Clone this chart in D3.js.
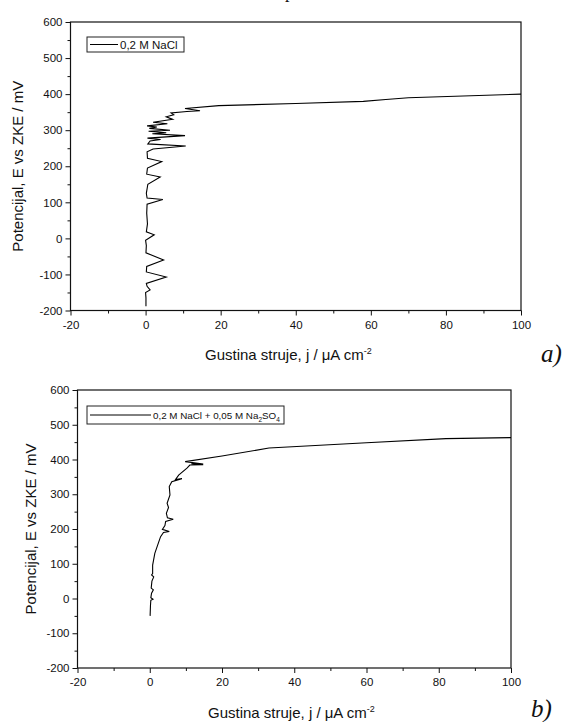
<!DOCTYPE html>
<html>
<head>
<meta charset="utf-8">
<script src="https://cdn.jsdelivr.net/npm/d3@7/dist/d3.min.js"></script>
<style>
  body { margin: 0; background: #fff; }
  svg { display: block; }
  text { font-family: "Liberation Sans", Arial, sans-serif; fill: #111; }
</style>
</head>
<body>
<div id="chart"></div>
<script>
// Polarizacijske krive, j (µA cm-2) vs E (mV)
// a) 0,2 M NaCl
const nacl_j = [0.1, 0.1, 0.0, 1.2, 0.4, 0.2, 5.5, 0.2, 0.3, 4.8, 0.1, 0.2, 0.0, 2.3, 0.2, 0.5, 0.3, 0.4, 4.6, 0.4,
  0.2, 0.6, 3.9, 0.3, 0.5, 4.3, 0.5, 0.4, 2.0, 10.7, 0.6, 1.2, 4.0, 0.5, 10.5, 1.8, 5.5, 0.8, 6.5, 1.0,
  3.0, 0.4, 5.8, 2.0, 7.2, 5.5, 7.5, 6.8, 11.0, 14.5, 10.5, 19.5, 40, 58, 64, 70, 100];
const nacl_E = [-188, -165, -150, -143, -133, -125, -107, -93, -78, -60, -40, -20, -5, 10, 18, 40, 70, 95, 108, 112,
  125, 150, 170, 178, 195, 213, 222, 240, 248, 256, 262, 270, 274, 278, 285, 290, 293, 297, 300, 305,
  309, 312, 318, 322, 330, 337, 343, 348, 352, 354, 360, 368, 374, 380, 385, 390, 400];

// b) 0,2 M NaCl + 0,05 M Na2SO4
const mix_j = [0.1, 0.2, 0.3, 0.9, 0.3, 0.5, 1.0, 0.4, 0.6, 1.1, 0.5, 0.8, 0.8, 1.4, 2.4, 3.0, 3.8, 5.4, 3.5, 4.2,
  4.4, 6.5, 4.9, 4.6, 5.2, 4.8, 5.6, 5.4, 6.1, 8.9, 7.1, 8.0, 10.3, 11.1, 14.8, 11.5, 14.8, 9.8, 20, 33, 60, 82, 100];
const mix_E = [-50, -20, -5, -2, 2, 15, 25, 30, 50, 62, 68, 72, 96, 130, 160, 178, 190, 193, 199, 210,
  222, 228, 232, 245, 262, 274, 298, 322, 336, 345, 342, 355, 375, 384, 385, 388, 387, 394, 410, 433, 448, 460, 463];

const xTicks = [-20, 0, 20, 40, 60, 80, 100];
const yTicks = [-200, -100, 0, 100, 200, 300, 400, 500, 600];

const W = 566, H = 722;
const svg = d3.select('#chart').append('svg').attr('width', W).attr('height', H);

// fragment of the caption cut off at the top
svg.append('text').attr('x', 285).attr('y', -2)
  .style('font-family', '"Liberation Serif", serif').style('font-size', '18px').text('p');

function drawPanel(cfg) {
  const x = d3.scaleLinear().domain([-20, 100]).range([cfg.left, cfg.right]);
  const y = d3.scaleLinear().domain([-200, 600]).range([cfg.bottom, cfg.top]);
  const g = svg.append('g');
  const fmt = d => String(d);   // plain hyphen minus, like the original

  // frame
  g.append('rect')
    .attr('x', cfg.left).attr('y', cfg.top)
    .attr('width', cfg.right - cfg.left).attr('height', cfg.bottom - cfg.top)
    .attr('fill', 'none').attr('stroke', '#111').attr('stroke-width', 1.2);

  // x axis (major + minor)
  g.append('g').attr('transform', `translate(0,${cfg.bottom})`)
    .call(d3.axisBottom(x).tickValues(xTicks).tickSize(5).tickPadding(5).tickFormat(fmt));
  g.append('g').attr('transform', `translate(0,${cfg.bottom})`)
    .call(d3.axisBottom(x).tickValues(d3.range(-10, 100, 20)).tickSize(3).tickFormat(''));

  // y axis
  g.append('g').attr('transform', `translate(${cfg.left},0)`)
    .call(d3.axisLeft(y).tickValues(yTicks).tickSize(5).tickPadding(3).tickFormat(fmt));
  g.append('g').attr('transform', `translate(${cfg.left},0)`)
    .call(d3.axisLeft(y).tickValues(d3.range(-150, 600, 100)).tickSize(3).tickFormat(''));

  g.selectAll('.domain').remove();
  g.selectAll('.tick line').attr('stroke', '#111').attr('stroke-width', 1);
  g.selectAll('.tick text').style('font-size', '11.5px').attr('fill', '#111');

  // data line
  const line = d3.line().x(d => x(d[0])).y(d => y(d[1]));
  g.append('path')
    .datum(d3.zip(cfg.j, cfg.E))
    .attr('d', line)
    .attr('fill', 'none').attr('stroke', '#000').attr('stroke-width', 1.1)
    .attr('stroke-linejoin', 'miter');

  // legend
  const lg = cfg.legend;
  g.append('rect').attr('x', lg.x).attr('y', lg.y).attr('width', lg.w).attr('height', lg.h)
    .attr('fill', '#fff').attr('stroke', '#222').attr('stroke-width', 1);
  g.append('line').attr('x1', lg.x + 3).attr('x2', lg.x + lg.lineLen)
    .attr('y1', lg.y + lg.h / 2).attr('y2', lg.y + lg.h / 2)
    .attr('stroke', '#000').attr('stroke-width', 1);
  const lt = g.append('text').attr('x', lg.x + lg.lineLen + 2).attr('y', lg.y + lg.h / 2 + 4)
    .style('font-size', lg.size + 'px');
  lg.parts.forEach(p => {
    const ts = lt.append('tspan').text(p.t);
    if (p.sub) ts.attr('dy', 3).style('font-size', '6.5px');
    else if (p.back) ts.attr('dy', -3);
  });

  // axis titles
  const xt = g.append('text').attr('x', cfg.xTitleX).attr('y', cfg.xTitleY).style('font-size', '15px');
  xt.append('tspan').text('Gustina struje, j / \u03bcA cm');
  xt.append('tspan').attr('dy', -6).style('font-size', '9px').text('-2');

  g.append('text')
    .attr('transform', `translate(${cfg.yTitleX},${(cfg.top + cfg.bottom) / 2}) rotate(-90)`)
    .attr('text-anchor', 'middle').style('font-size', '15px')
    .text('Potencijal, E vs ZKE / mV');

  // panel letter
  g.append('text').attr('x', cfg.tagX).attr('y', cfg.tagY)
    .style('font-family', '"Liberation Serif", "Times New Roman", serif')
    .style('font-style', 'italic').style('font-size', '25px')
    .text(cfg.tag);
}

drawPanel({
  left: 70.5, right: 521, top: 22, bottom: 310.5,
  j: nacl_j, E: nacl_E,
  legend: { x: 87, y: 37, w: 97, h: 15, lineLen: 31, size: 11.5, parts: [{ t: '0,2 M NaCl' }] },
  xTitleX: 205, xTitleY: 360, yTitleX: 23,
  tag: 'a)', tagX: 541, tagY: 362
});

drawPanel({
  left: 77.5, right: 511, top: 390, bottom: 668,
  j: mix_j, E: mix_E,
  legend: {
    x: 87, y: 406, w: 197, h: 18, lineLen: 64, size: 9.8,
    parts: [{ t: '0,2 M NaCl + 0,05 M Na' }, { t: '2', sub: true }, { t: 'SO', back: true }, { t: '4', sub: true }]
  },
  xTitleX: 208, xTitleY: 718, yTitleX: 36,
  tag: 'b)', tagX: 531, tagY: 717
});
</script>
</body>
</html>
